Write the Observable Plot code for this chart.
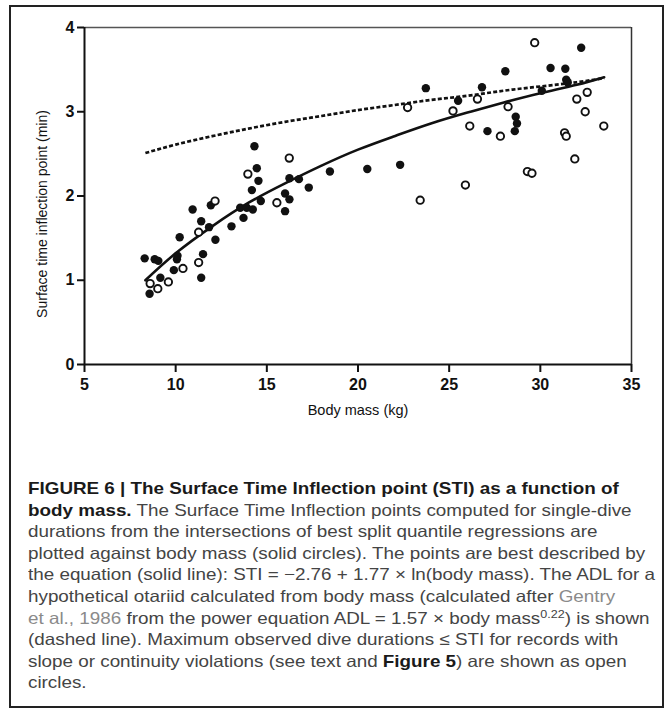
<!DOCTYPE html>
<html>
<head>
<meta charset="utf-8">
<script src="https://cdn.jsdelivr.net/npm/d3@7"></script>
<script src="https://cdn.jsdelivr.net/npm/@observablehq/plot@0.6"></script>
<style>
  html, body { margin: 0; padding: 0; background: #fff; }
  body { width: 672px; height: 718px; position: relative; overflow: hidden; }
  #frame { position: absolute; left: 9px; top: 5px; width: 655px; height: 703px; border: 2px solid #222; box-sizing: border-box; }
  #chart { position: absolute; left: 0; top: 0; }
  #caption { position: absolute; left: 28px; top: 478px; font-family: "Liberation Sans", Arial, sans-serif; font-size: 16.5px; line-height: 21.6px; color: #444; transform-origin: 0 0; }
  #caption .ln { white-space: nowrap; }
  #caption b { color: #1a1a1a; }
  #caption .ref { color: #8a8a8a; }
  #caption sup { font-size: 11px; line-height: 0; vertical-align: 6px; }
</style>
</head>
<body>
<div id="frame"></div>
<div id="chart"></div>
<div id="caption">
  <div class="ln"><b>FIGURE 6 | The Surface Time Inflection point (STI) as a function of</b></div>
  <div class="ln"><b>body mass.</b> The Surface Time Inflection points computed for single-dive</div>
  <div class="ln">durations from the intersections of best split quantile regressions are</div>
  <div class="ln">plotted against body mass (solid circles). The points are best described by</div>
  <div class="ln">the equation (solid line): STI = −2.76 + 1.77 × ln(body mass). The ADL for a</div>
  <div class="ln">hypothetical otariid calculated from body mass (calculated after <span class="ref">Gentry</span></div>
  <div class="ln"><span class="ref">et al., 1986</span> from the power equation ADL = 1.57 × body mass<sup>0.22</sup>) is shown</div>
  <div class="ln">(dashed line). Maximum observed dive durations ≤ STI for records with</div>
  <div class="ln">slope or continuity violations (see text and <b>Figure 5</b>) are shown as open</div>
  <div class="ln">circles.</div>
</div>
<script>
// Solid circles: STI per record (body mass kg, STI min)
const filledMass = [8.30, 8.85, 9.05, 8.57, 9.16, 9.90, 10.07, 10.10, 10.22, 10.93, 11.40, 11.50, 11.40, 11.83, 12.18, 11.93, 13.06, 13.54, 13.72, 13.90, 14.23, 14.18, 14.54, 14.45, 14.32, 14.67, 16.00, 16.24, 16.00, 16.24, 16.76, 17.30, 18.46, 20.51, 22.31, 23.72, 25.49, 26.80, 27.10, 28.08, 28.65, 28.72, 28.60, 30.08, 30.56, 31.37, 31.42, 31.50, 32.24];
const filledSTI  = [1.26, 1.25, 1.23, 0.84, 1.03, 1.12, 1.25, 1.29, 1.51, 1.84, 1.70, 1.31, 1.03, 1.63, 1.48, 1.89, 1.64, 1.86, 1.74, 1.86, 1.84, 2.07, 2.18, 2.33, 2.59, 1.94, 2.03, 1.96, 1.82, 2.21, 2.20, 2.10, 2.29, 2.32, 2.37, 3.28, 3.13, 3.29, 2.77, 3.48, 2.94, 2.86, 2.77, 3.25, 3.52, 3.51, 3.38, 3.35, 3.76];
// Open circles: max observed dive durations for records with violations
const openMass = [8.60, 9.02, 9.60, 10.40, 11.26, 11.26, 12.16, 13.96, 15.55, 16.23, 22.72, 23.41, 25.21, 25.89, 26.13, 26.55, 27.81, 28.23, 29.29, 29.54, 29.69, 31.33, 31.42, 31.89, 32.00, 32.46, 32.57, 33.48];
const openSTI  = [0.96, 0.90, 0.98, 1.14, 1.57, 1.21, 1.94, 2.26, 1.92, 2.45, 3.05, 1.95, 3.01, 2.13, 2.83, 3.15, 2.71, 3.06, 2.29, 2.27, 3.82, 2.75, 2.71, 2.44, 3.15, 3.00, 3.23, 2.83];
// Solid fit line
const fitMass = [8.34, 10, 12, 14, 16, 18, 20, 22, 24, 26, 28, 30, 32, 33.5];
const fitSTI  = [1.00, 1.32, 1.64, 1.92, 2.15, 2.36, 2.55, 2.71, 2.86, 2.99, 3.11, 3.22, 3.32, 3.41];
// Dashed ADL line
const adlMass  = [8.34, 10, 12, 14, 16, 18, 20, 22, 24, 26, 28, 30, 32, 33.5];
const adlValue = [2.51, 2.61, 2.71, 2.80, 2.88, 2.95, 3.02, 3.08, 3.14, 3.19, 3.25, 3.30, 3.35, 3.40];
const xTicks = [5, 10, 15, 20, 25, 30, 35];
const yTicks = [0, 1, 2, 3, 4];

const filled = filledMass.map((m, i) => ({m, v: filledSTI[i]}));
const open = openMass.map((m, i) => ({m, v: openSTI[i]}));
const fit = fitMass.map((m, i) => ({m, v: fitSTI[i]}));
const adl = adlMass.map((m, i) => ({m, v: adlValue[i]}));

const chart = Plot.plot({
  width: 672,
  height: 430,
  marginLeft: 84,
  marginRight: 41,
  marginTop: 27,
  marginBottom: 66,
  style: {fontFamily: "'Liberation Sans', Arial, sans-serif", background: "transparent", overflow: "visible"},
  x: {domain: [5, 35]},
  y: {domain: [0, 4]},
  marks: [
    Plot.ruleY([4], {stroke: "#555", strokeWidth: 1.5}),
    Plot.ruleX([35], {stroke: "#333", strokeWidth: 1.5}),
    Plot.axisX({ticks: xTicks, tickSize: 8, tickPadding: 6, tickFormat: d => String(d), stroke: "#111", strokeWidth: 2, fill: "#111", fontSize: 16, fontWeight: "bold", label: null}),
    Plot.axisY({ticks: yTicks, tickSize: 7, tickPadding: 3, tickFormat: d => String(d), stroke: "#111", strokeWidth: 2, fill: "#111", fontSize: 16, fontWeight: "bold", label: null}),
    Plot.text(["Body mass (kg)"], {frameAnchor: "bottom", dy: 50, fontSize: 14.5, fill: "#111", lineAnchor: "bottom"}),
    Plot.text(["Surface time inflection point (min)"], {frameAnchor: "left", dx: -42, dy: 18, rotate: -90, textAnchor: "middle", lineAnchor: "middle", fontSize: 14, fill: "#111"}),
    Plot.ruleY([0], {stroke: "#111", strokeWidth: 2}),
    Plot.ruleX([5], {stroke: "#111", strokeWidth: 2}),
    Plot.line(adl, {x: "m", y: "v", curve: "natural", stroke: "#111", strokeWidth: 2.7, strokeDasharray: "4,2.2", strokeLinecap: "butt"}),
    Plot.line(fit, {x: "m", y: "v", curve: "natural", stroke: "#111", strokeWidth: 2.6}),
    Plot.dot(filled, {x: "m", y: "v", r: 4.2, fill: "#111", stroke: "none"}),
    Plot.dot(open, {x: "m", y: "v", r: 3.7, fill: "#fff", stroke: "#111", strokeWidth: 1.9})
  ]
});
document.getElementById("chart").appendChild(chart);

// fit the caption width to the reference (widest line ends near x=655)
const cap = document.getElementById("caption");
let maxW = 0;
cap.querySelectorAll(".ln").forEach(l => {
  const r = document.createRange(); r.selectNodeContents(l);
  maxW = Math.max(maxW, r.getBoundingClientRect().width);
});
const k = 627 / maxW;
cap.style.transform = `scaleX(${k})`;
</script>
</body>
</html>
